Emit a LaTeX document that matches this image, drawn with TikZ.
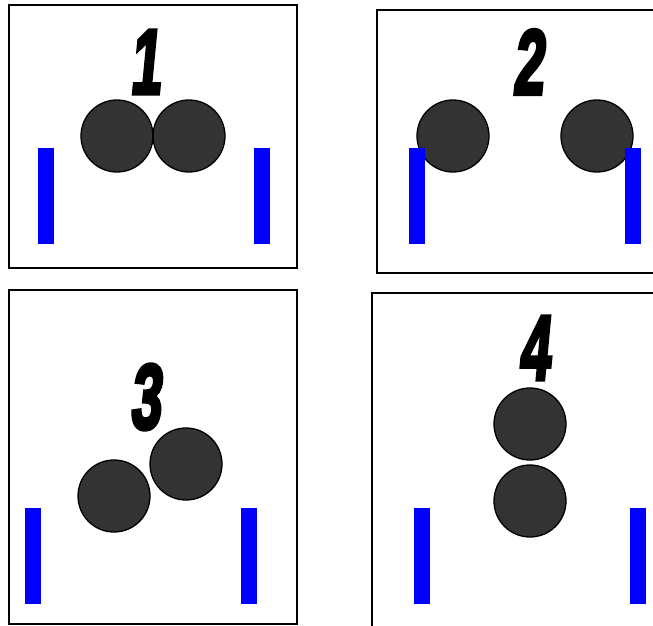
\documentclass[tikz,border=0pt]{standalone}
\usepackage{fontspec}
\newfontfamily\numfont[FakeSlant=0.16,FakeBold=4.5]{Liberation Sans Bold}
\begin{document}
\begin{tikzpicture}[x=1pt,y=-1pt,
  panel/.style={draw=black,line width=1.8pt,fill=white},
  ball/.style={circle,draw=black,line width=1.3pt,fill=black!80,minimum size=72pt,inner sep=0pt},
  bar/.style={rectangle,fill=blue,draw=none,minimum width=16pt,minimum height=96pt,inner sep=0pt},
  num/.style={inner sep=0pt,font=\numfont\fontsize{92}{92}\selectfont}]
\useasboundingbox (0,0) rectangle (653,626);
\clip (0,0) rectangle (653,626);
% panels
\draw[panel] (9,5) rectangle (297,268);
\draw[panel] (377,10) rectangle (665,273);
\draw[panel] (9,290) rectangle (297,624);
\draw[panel] (372,293) rectangle (665,640);
% panel 1
\node[ball] (b1a) at (117,136) {};
\node[ball] (b1b) at (189,136) {};
\node[bar] (l1) at (46,196) {};
\node[bar] (r1) at (262,196) {};
\node[num] (n1) at (145,62) {\scalebox{0.6}[1]{1}};
% panel 2
\node[ball] (b2a) at (453,136) {};
\node[ball] (b2b) at (597,136) {};
\node[bar] (l2) at (417,196) {};
\node[bar] (r2) at (633,196) {};
\node[num] (n2) at (528,62) {\scalebox{0.6}[1]{2}};
% panel 3
\node[ball] (b3a) at (114,496) {};
\node[ball] (b3b) at (186,464) {};
\node[bar] (l3) at (33,556) {};
\node[bar] (r3) at (249,556) {};
\node[num] (n3) at (145,397) {\scalebox{0.6}[1]{3}};
% panel 4
\node[ball] (b4a) at (530,424) {};
\node[ball] (b4b) at (530,501) {};
\node[bar] (l4) at (422,556) {};
\node[bar] (r4) at (638,556) {};
\node[num] (n4) at (534,348) {\scalebox{0.6}[1]{4}};
\end{tikzpicture}
\end{document}
